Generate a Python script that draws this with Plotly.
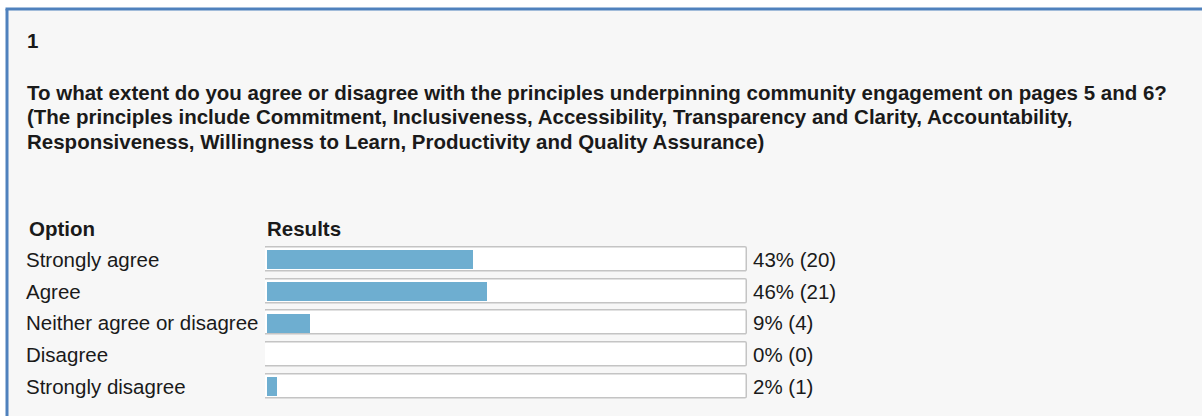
import plotly.graph_objects as go

# ---- data ----
options = ["Strongly agree", "Agree", "Neither agree or disagree", "Disagree", "Strongly disagree"]
percents = [43, 46, 9, 0, 2]
counts = [20, 21, 4, 0, 1]
question_number = "1"
question_lines = [
    "To what extent do you agree or disagree with the principles underpinning community engagement on pages 5 and 6?",
    "(The principles include Commitment, Inclusiveness, Accessibility, Transparency and Clarity, Accountability,",
    "Responsiveness, Willingness to Learn, Productivity and Quality Assurance)",
]
header_option = "Option"
header_results = "Results"

W, H = 1202, 416
FONT = "Liberation Sans, Arial, sans-serif"
TXT = "#1a1a1a"
FS = 20.5

def px(x):
    return x / W

def py(y):
    return 1 - y / H

fig = go.Figure()

# frame bars (full 100% track)
fig.add_trace(go.Bar(
    y=options, x=[100.84] * len(options), base=[-0.42] * len(options),
    orientation="h", width=0.76,
    marker=dict(color="white", line=dict(color="#c4c4c4", width=1.5), cornerradius=2),
    hoverinfo="skip", showlegend=False,
))
# value bars
fig.add_trace(go.Bar(
    y=options, x=percents, orientation="h", width=0.6,
    marker=dict(color="#6eaed0", line=dict(width=0), cornerradius=6),
    showlegend=False,
))

annotations = []
annotations.append(dict(text="<b>" + question_number + "</b>", x=px(25), y=py(41), xref="paper", yref="paper",
                        xanchor="left", yanchor="middle", showarrow=False,
                        font=dict(family=FONT, size=FS, color=TXT)))
for i, line in enumerate(question_lines):
    annotations.append(dict(text="<b>" + line + "</b>", x=px(25), y=py(92 + i * 24.5), xref="paper", yref="paper",
                            xanchor="left", yanchor="middle", showarrow=False,
                            font=dict(family=FONT, size=FS, color=TXT)))
annotations.append(dict(text="<b>" + header_option + "</b>", x=px(27), y=py(228), xref="paper", yref="paper",
                        xanchor="left", yanchor="middle", showarrow=False,
                        font=dict(family=FONT, size=FS, color=TXT)))
annotations.append(dict(text="<b>" + header_results + "</b>", x=px(265), y=py(228), xref="paper", yref="paper",
                        xanchor="left", yanchor="middle", showarrow=False,
                        font=dict(family=FONT, size=FS, color=TXT)))
for opt, p, c in zip(options, percents, counts):
    annotations.append(dict(text=opt, x=px(24), y=opt, xref="paper", yref="y",
                            xanchor="left", yanchor="middle", showarrow=False,
                            font=dict(family=FONT, size=FS, color=TXT)))
    annotations.append(dict(text=f"{p}% ({c})", x=px(751), y=opt, xref="paper", yref="y",
                            xanchor="left", yanchor="middle", showarrow=False,
                            font=dict(family=FONT, size=FS, color=TXT)))

shapes = [
    dict(type="rect", xref="paper", yref="paper", x0=px(6), x1=1.01, y0=-0.01, y1=py(9),
         fillcolor="#f7f7f7", line=dict(width=0), layer="below"),
    dict(type="line", xref="paper", yref="paper", x0=px(5.5), x1=1.01, y0=py(9), y1=py(9),
         line=dict(color="#4f81bd", width=3)),
    dict(type="line", xref="paper", yref="paper", x0=px(7), x1=px(7), y0=-0.01, y1=py(9),
         line=dict(color="#4f81bd", width=3)),
]

fig.update_layout(
    width=W, height=H, margin=dict(l=0, r=0, t=0, b=0),
    paper_bgcolor="white", plot_bgcolor="rgba(0,0,0,0)",
    barmode="overlay", bargap=0,
    xaxis=dict(domain=[px(265), px(747)], range=[-0.42, 100.42], visible=False, fixedrange=True),
    yaxis=dict(domain=[1 - 402 / H, 1 - 243.5 / H], type="category", categoryorder="array",
               categoryarray=options, autorange="reversed", visible=False, fixedrange=True),
    annotations=annotations, shapes=shapes,
    showlegend=False,
)

fig.write_html("out.html", config={"displayModeBar": False},
               post_script="document.body.style.margin='0px';document.body.style.overflow='hidden';")
